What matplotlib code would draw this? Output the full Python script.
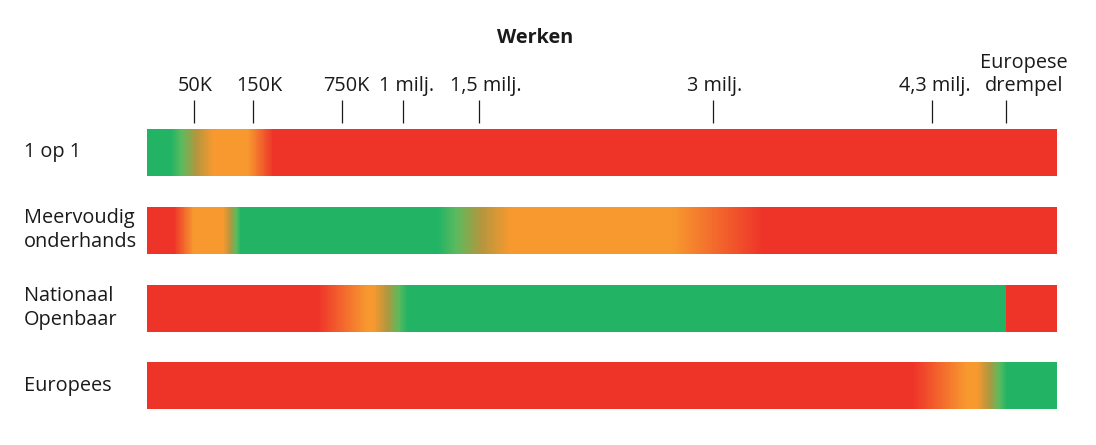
import numpy as np
import matplotlib
matplotlib.use("Agg")
import matplotlib.pyplot as plt
from matplotlib.colors import LinearSegmentedColormap, Normalize

# --- data ------------------------------------------------------------------
categories = ["1 op 1", "Meervoudig\nonderhands", "Nationaal\nOpenbaar", "Europees"]

tick_values = [50e3, 150e3, 750e3, 1.0e6, 1.5e6, 3.0e6, 4.3e6, 5.35e6]
tick_labels = ["50K", "150K", "750K", "1 milj.", "1,5 milj.", "3 milj.",
               "4,3 milj.", "Europese\ndrempel"]

# advice per procedure along the contract value (EUR): (value, level)
stops_1op1 = [(0, "green"), (25e3, "green"), (82e3, "orange"), (141e3, "orange"),
              (285e3, "red"), (6.0e6, "red")]
stops_meervoudig = [(0, "red"), (28e3, "red"), (49e3, "orange"), (99e3, "orange"),
                    (128e3, "green"), (1.23e6, "green"), (1.699e6, "orange"),
                    (2.744e6, "orange"), (3.297e6, "red"), (6.0e6, "red")]
stops_nationaal = [(0, "red"), (581e3, "red"), (852e3, "orange"), (877e3, "orange"),
                   (1.026e6, "green"), (5.345e6, "green"), (5.35e6, "red"), (6.0e6, "red")]
stops_europees = [(0, "red"), (4.187e6, "red"), (4.797e6, "orange"), (4.939e6, "orange"),
                  (5.363e6, "green"), (6.0e6, "green")]
row_stops = [stops_1op1, stops_meervoudig, stops_nationaal, stops_europees]

level_colors = {"green": "#22b364", "orange": "#f7992f", "red": "#ee3329"}
# in-between tints used when blending green and orange (fraction from green side)
green_orange_tints = [(0.25, "#5cba5e"), (0.6, "#b4963e")]

# --- non-linear value axis (piecewise linear between thresholds) ----------
scale_values = [0, 50e3, 150e3, 750e3, 1.0e6, 1.5e6, 3.0e6, 4.3e6, 5.35e6, 6.0e6]
scale_pos = [0, 47, 106, 195, 256, 332, 566, 785, 859, 910]
POS_MAX = scale_pos[-1]


def forward(v):
    return np.interp(v, scale_values, scale_pos)


def inverse(p):
    return np.interp(p, scale_pos, scale_values)


def colour_segments(stops):
    """Turn (value, level) stops into colormap segments on the 0..1 axis."""
    seg = []
    for k, (v, lvl) in enumerate(stops):
        p = forward(v) / POS_MAX
        if k > 0:
            pv, plvl = stops[k - 1]
            pp = forward(pv) / POS_MAX
            pair = {plvl, lvl}
            if pair == {"green", "orange"}:
                tints = green_orange_tints
                if plvl == "orange":
                    tints = [(1 - f, c) for f, c in reversed(tints)]
                for f, c in tints:
                    seg.append((pp + f * (p - pp), c))
        seg.append((p, level_colors[lvl]))
    return seg


plt.rcParams["font.family"] = ["Open Sans", "DejaVu Sans"]
text_color = "#1a1a1a"
fs = 14.3

W, H = 1096, 445
fig = plt.figure(figsize=(W / 100, H / 100), dpi=100)
ax_top_px, ax_bot_px = 123, 417
ax = fig.add_axes([147 / W, 1 - ax_bot_px / H, 910 / W, (ax_bot_px - ax_top_px) / H])

ax.set_xscale("function", functions=(forward, inverse))
ax.set_xlim(scale_values[0], scale_values[-1])

bar_h = 0.604
pos_edges = np.linspace(0, POS_MAX, 3641)
x_edges = inverse(pos_edges)
pos_centers = 0.5 * (pos_edges[:-1] + pos_edges[1:])
norm = Normalize(0, POS_MAX)

for i, stops in enumerate(row_stops):
    cmap = LinearSegmentedColormap.from_list(f"row{i}", colour_segments(stops), N=1024)
    y_edges = np.array([i - bar_h / 2, i + bar_h / 2])
    ax.pcolormesh(x_edges, y_edges, pos_centers[None, :], cmap=cmap, norm=norm,
                  shading="flat", edgecolors="none", antialiased=False)

ax.set_ylim(3.40, -0.379)
for s in ax.spines.values():
    s.set_visible(False)
ax.set_yticks([])
ax.set_xticks(tick_values)
ax.minorticks_off()
ax.tick_params(axis="x", which="both", top=True, bottom=False, labeltop=False,
               labelbottom=False, direction="out", length=23 * 0.72,
               width=0.9, color=text_color)

label_dx = [1, 6, 4, 4, 7, 2, 3, 18]
for v, lab, dx in zip(tick_values, tick_labels, label_dx):
    ax.annotate(lab, xy=(v, 1), xycoords=("data", "axes fraction"),
                xytext=(dx, 32), textcoords="offset pixels",
                ha="center", va="baseline", fontsize=fs, color=text_color,
                linespacing=1.2, annotation_clip=False)

for i, cat in enumerate(categories):
    ax.annotate(cat, xy=(0, i), xycoords=("axes fraction", "data"),
                xytext=(-123, 0), textcoords="offset pixels",
                ha="left", va="center", fontsize=fs, color=text_color,
                linespacing=1.25, annotation_clip=False)

fig.text(535 / W, 1 - 38 / H, "Werken", ha="center", va="center",
         fontsize=fs, fontweight="bold", color=text_color)

fig.savefig("out.png", dpi=100)
